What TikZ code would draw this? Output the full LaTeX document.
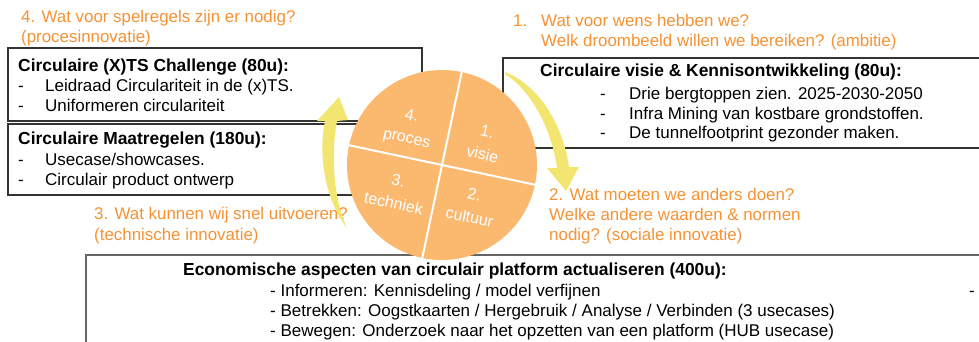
\documentclass[tikz,border=0pt]{standalone}
\usepackage{fontspec}
\setmainfont{Liberation Sans}
\usetikzlibrary{calc}

\definecolor{oranjetxt}{RGB}{246,146,52}
\definecolor{oranjevlak}{RGB}{251,185,112}
\definecolor{geel}{RGB}{242,230,112}

\tikzset{
  txt/.style={anchor=base west, inner sep=0pt, font=\fontsize{17}{20}\selectfont},
  kop/.style={txt, font=\fontsize{17.4}{20}\selectfont\bfseries},
  vraag/.style={txt, text=oranjetxt, font=\fontsize{16.9}{20}\selectfont},
  kader/.style={draw=black!80, line width=1.2pt},
  kwart/.style={white, align=center, rotate=-12, inner sep=0pt, font=\fontsize{16}{23}\selectfont},
  pijl/.style={fill=geel, draw=none},
}

\newcommand{\streep}[1]{\makebox[#1][l]{-}}

\begin{document}
\begin{tikzpicture}[x=1pt, y=-1pt]

\useasboundingbox (0,0) rectangle (979,341);

\draw[kader] (8,48) rectangle (422,121);
\draw[kader] (8,124) rectangle (422,195);
\draw[kader] (503,58) rectangle (990,148);
\draw[kader, draw=black!60, line width=1.5pt] (86,255) rectangle (990,360);

\node[vraag] (q4a) at (21,22.5) {4. Wat voor spelregels zijn er nodig?};
\node[vraag] (q4b) at (21,42.5) {(procesinnovatie)};
\node[vraag] (q1a) at (513,26.7) {\makebox[28pt][l]{1.}Wat voor wens hebben we?};
\node[vraag] (q1b) at (541,46.7) {Welk droombeeld willen we bereiken? (ambitie)};
\node[vraag] (q2a) at (549,200) {2. Wat moeten we anders doen?};
\node[vraag] (q2b) at (549,220.5) {Welke andere waarden \& normen};
\node[vraag] (q2c) at (549,240.5) {nodig? (sociale innovatie)};
\node[vraag] (q3a) at (94,219) {3. Wat kunnen wij snel uitvoeren?};
\node[vraag] (q3b) at (94,240) {(technische innovatie)};

\node[kop] (xts) at (18,71) {Circulaire (X)TS Challenge (80u):};
\node[txt] (xts1) at (18,91.5) {\streep{27pt}Leidraad Circulariteit in de (x)TS.};
\node[txt] (xts2) at (18,111) {\streep{27pt}Uniformeren circulariteit};

\node[kop] (mr) at (18,144) {Circulaire Maatregelen (180u):};
\node[txt] (mr1) at (18,165.5) {\streep{27pt}Usecase/showcases.};
\node[txt] (mr2) at (18,185.5) {\streep{27pt}Circulair product ontwerp};

\node[kop] (vk) at (540,76.7) {Circulaire visie \& Kennisontwikkeling (80u):};
\node[txt] (vk1) at (600,99) {\streep{29pt}Drie bergtoppen zien. 2025-2030-2050};
\node[txt] (vk2) at (600,119) {\streep{29pt}Infra Mining van kostbare grondstoffen.};
\node[txt] (vk3) at (600,138.5) {\streep{29pt}De tunnelfootprint gezonder maken.};

\node[kop] (eco) at (183,275.5) {Economische aspecten van circulair platform actualiseren (400u):};
\node[txt] (eco1) at (270,296) {- Informeren: Kennisdeling / model verfijnen};
\node[txt] (eco2) at (270,316) {- Betrekken: Oogstkaarten / Hergebruik / Analyse / Verbinden (3 usecases)};
\node[txt] (eco3) at (270,336) {- Bewegen: Onderzoek naar het opzetten van een platform (HUB usecase)};
\node[txt] (eco4) at (969,296) {-};

\node[circle, fill=oranjevlak, inner sep=0pt, minimum size=190pt] (c) at (442,165) {};
\draw[white, line width=2pt] ($(c)+(-78:95)$) to ($(c)+(102:95)$);
\draw[white, line width=2pt] ($(c)+(192:95)$) to ($(c)+(12:95)$);

\node[kwart] (k4) at (409,128) {4.\\proces};
\node[kwart] (k1) at (485,143) {1.\\visie};
\node[kwart] (k3) at (396,192) {3.\\techniek};
\node[kwart] (k2) at (472,206) {2.\\cultuur};

\fill[pijl] (505,72) .. controls (536,84) and (562,120) .. (569,167) -- (579,167) -- (566,191) -- (547,168) -- (557,168) .. controls (551,126) and (530,90) .. (505,74) -- cycle;
\fill[pijl] (347,228) .. controls (325,200) and (318,155) .. (325,121) -- (317,121) -- (339,97) -- (348,120) -- (337,121) .. controls (331,155) and (333,198) .. (347,228) -- cycle;

\end{tikzpicture}
\end{document}
